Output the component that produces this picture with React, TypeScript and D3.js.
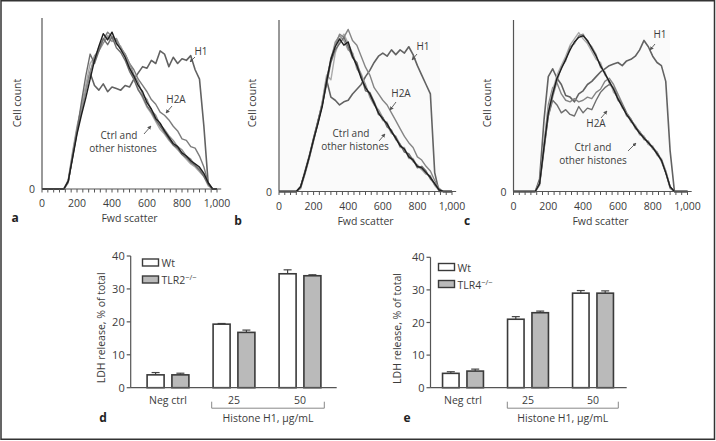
import React from 'react';
import * as d3 from 'd3';

// ---------- Histogram data (Fwd scatter vs cell count, % of peak) ----------
const FWD_SCATTER = [0,25,50,75,100,125,150,175,200,225,250,275,300,325,350,375,400,425,450,475,500,525,550,575,600,625,650,675,700,725,750,775,800,825,850,875,900,925,950,975,1000];
const FWD_TICKS = [0, 200, 400, 600, 800, 1000];

// panel a
const A_CTRL1 = [0,0,0,0,0,0,5,20,35,47,58,70,82,91,99,95,100,93,89,84,77,72,66,62,55,51,45,42,37,33,29,27,23,21,18,16,14,10,4,0,0];
const A_CTRL2 = [0,0,0,0,0,0,4,22,38,50,62,74,85,88,93,97,94,96,90,86,80,73,68,60,57,50,47,41,38,34,31,27,25,21,19,15,13,9,3,0,0];
const A_CTRL3 = [0,0,0,0,0,0,6,24,40,52,66,80,84,90,95,98,96,92,91,85,78,70,64,58,52,48,43,38,35,31,28,25,22,19,16,14,11,8,2,0,0];
const A_CTRL4 = [0,0,0,0,0,0,5,21,37,55,72,86,80,88,96,92,97,90,87,82,75,70,63,59,53,49,44,40,36,32,28,26,22,20,17,15,12,8,3,0,0];
const A_H2A = [0,0,0,0,0,0,5,20,36,50,63,75,82,90,95,100,97,95,90,86,80,76,70,66,62,57,54,49,47,44,40,37,32,31,27,26,21,14,4,0,0];
const A_H1 = [0,0,0,0,0,0,5,22,38,52,64,74,66,63,67,62,65,64,63,66,65,70,74,78,77,82,80,88,86,78,84,80,83,82,85,76,70,40,3,0,0];

// panel b
const B_CTRL1 = [0,0,0,0,0,3,12,22,33,43,54,70,84,92,97,93,95,86,80,72,66,62,56,50,46,43,38,34,29,27,22,20,16,15,12,9,5,1,0,0,0];
const B_CTRL2 = [0,0,0,0,0,2,11,21,32,44,56,72,83,95,99,96,90,88,78,74,68,60,55,52,47,42,37,35,30,26,23,19,17,14,11,10,4,1,0,0,0];
const B_CTRL3 = [0,0,0,0,0,3,13,23,34,45,55,68,82,90,94,98,92,85,82,73,64,63,57,49,47,41,39,33,30,25,24,20,15,16,13,8,5,1,0,0,0];
const B_CTRL4 = [0,0,0,0,0,2,12,22,33,44,57,74,71,88,96,100,94,88,80,75,67,61,57,51,45,44,37,35,28,28,21,21,16,14,12,9,4,1,0,0,0];
const B_H2A = [0,0,0,0,0,3,12,22,34,44,55,70,85,93,100,98,103,96,93,86,79,74,66,62,58,55,50,45,40,35,31,28,22,20,16,13,7,2,0,0,0];
const B_H1 = [0,0,0,0,0,3,12,22,33,44,56,71,60,58,55,57,58,62,65,68,73,77,82,86,88,86,90,87,90,88,92,87,80,74,68,62,12,0,0,0,0];

// panel c
const C_CTRL1 = [0,0,0,0,0,0,5,28,50,62,72,78,84,90,95,98,99,96,91,86,80,75,70,65,59,54,49,45,41,37,34,31,28,24,20,12,3,0,0,0,0];
const C_CTRL2 = [0,0,0,0,0,0,6,30,52,64,74,80,86,93,97,101,97,94,89,84,82,74,71,63,60,53,50,44,42,36,35,30,29,23,21,13,3,0,0,0,0];
const C_CTRL3 = [0,0,0,0,0,0,4,26,48,60,70,79,83,92,94,99,100,95,92,87,79,76,69,66,58,55,48,46,40,38,33,32,27,25,19,12,2,0,0,0,0];
const C_HIST = [0,0,0,0,0,0,5,30,55,66,69,62,58,57,59,57,58,60,59,63,65,70,72,68,62,56,50,45,42,37,35,30,28,24,20,13,3,0,0,0,0];
const C_H2A = [0,0,0,0,0,0,5,27,48,58,55,50,52,49,48,54,50,53,52,58,63,66,68,66,60,55,50,46,41,38,34,31,28,25,20,12,3,0,0,0,0];
const C_H1 = [0,0,0,0,0,0,8,45,73,78,72,68,61,60,57,62,64,68,70,73,76,78,80,81,82,80,83,84,86,90,96,92,86,82,80,70,26,0,0,0,0];

// ---------- LDH release data ----------
const LDH_GROUPS = ['Neg ctrl', '25', '50'];
const LDH_TICKS = [0, 10, 20, 30, 40];
const D_WT = [3.9, 19.3, 34.6];
const D_WT_ERR = [0.7, 0.2, 1.2];
const D_KO = [3.9, 16.8, 34.0];
const D_KO_ERR = [0.5, 0.7, 0.3];
const E_WT = [4.4, 21.0, 29.0];
const E_WT_ERR = [0.5, 0.8, 0.8];
const E_KO = [5.1, 23.0, 29.0];
const E_KO_ERR = [0.6, 0.5, 0.7];

const FONT = '"Open Sans", "DejaVu Sans", sans-serif';
const TXT = '#3c3c3c';
const AXIS = '#555';

type Curve = { values: number[]; color: string; width: number };
type Note = { lines: string[]; x: number; y: number; arrow: [number, number, number, number] };
type HistCfg = {
  letter: string; x0: number; pxPer1000: number; yBase: number; yTop: number;
  bg: null | [number, number, number, number]; ylabelX: number; letterX: number;
  curves: Curve[]; notes: Note[];
};

const HISTS: HistCfg[] = [
  {
    letter: 'a', x0: 42, pxPer1000: 175, yBase: 189, yTop: 18, bg: null, ylabelX: 21, letterX: 15,
    curves: [
      { values: A_H1, color: '#626262', width: 1.6 },
      { values: A_H2A, color: '#7c7c7c', width: 1.4 },
      { values: A_CTRL3, color: '#ababab', width: 1.4 },
      { values: A_CTRL2, color: '#8f8f8f', width: 1.4 },
      { values: A_CTRL4, color: '#6c6c6c', width: 1.4 },
      { values: A_CTRL1, color: '#1e1e1e', width: 1.4 },
    ],
    notes: [
      { lines: ['H1'], x: 201, y: 55, arrow: [195, 57, 190, 62] },
      { lines: ['H2A'], x: 176, y: 103, arrow: [172, 106, 166, 113] },
      { lines: ['Ctrl and', 'other histones'], x: 119, y: 138.5, arrow: [144, 134, 151, 126] },
    ],
  },
  {
    letter: 'b', x0: 279, pxPer1000: 173, yBase: 191.5, yTop: 20, bg: [279, 30, 440, 191.5], ylabelX: 256, letterX: 238,
    curves: [
      { values: B_H1, color: '#626262', width: 1.6 },
      { values: B_CTRL4, color: '#ababab', width: 1.4 },
      { values: B_CTRL2, color: '#959595', width: 1.4 },
      { values: B_H2A, color: '#858585', width: 1.4 },
      { values: B_CTRL3, color: '#6a6a6a', width: 1.4 },
      { values: B_CTRL1, color: '#1e1e1e', width: 1.4 },
    ],
    notes: [
      { lines: ['H1'], x: 423, y: 50, arrow: [417, 54, 412, 60] },
      { lines: ['H2A'], x: 401, y: 97, arrow: [396, 102, 390, 110] },
      { lines: ['Ctrl and', 'other histones'], x: 351, y: 136.5, arrow: [379, 141, 385, 134] },
    ],
  },
  {
    letter: 'c', x0: 513.5, pxPer1000: 174, yBase: 191.5, yTop: 20, bg: [514, 30, 670, 191.5], ylabelX: 491, letterX: 467,
    curves: [
      { values: C_H1, color: '#626262', width: 1.6 },
      { values: C_HIST, color: '#858585', width: 1.4 },
      { values: C_H2A, color: '#6e6e6e', width: 1.4 },
      { values: C_CTRL2, color: '#ababab', width: 1.4 },
      { values: C_CTRL3, color: '#8a8a8a', width: 1.4 },
      { values: C_CTRL1, color: '#1e1e1e', width: 1.4 },
    ],
    notes: [
      { lines: ['H1'], x: 660, y: 38, arrow: [655, 44, 650, 50] },
      { lines: ['H2A'], x: 596, y: 127, arrow: [601, 118, 607, 111] },
      { lines: ['Ctrl and', 'other histones'], x: 593, y: 150.5, arrow: [628, 151, 636, 143] },
    ],
  },
];

type BarCfg = {
  letter: string; koLabel: string; axisX: number; xEnd: number; bandStart: number; bandEnd: number;
  yBase: number; yTop: number; offset: number; bw: number; wt: number[]; wtErr: number[];
  ko: number[]; koErr: number[]; legX: number; legY: number; ylabelX: number; letterX: number;
  bracket: [number, number];
};

const BARS: BarCfg[] = [
  {
    letter: 'd', koLabel: 'TLR2', axisX: 130.7, xEnd: 336.7, bandStart: 135, bandEnd: 333,
    yBase: 387.7, yTop: 256, offset: 12.4, bw: 17, wt: D_WT, wtErr: D_WT_ERR, ko: D_KO, koErr: D_KO_ERR,
    legX: 142.5, legY: 259, ylabelX: 105, letterX: 103, bracket: [211.7, 324.3],
  },
  {
    letter: 'e', koLabel: 'TLR4', axisX: 430.5, xEnd: 626.7, bandStart: 430.5, bandEnd: 625.5,
    yBase: 387.7, yTop: 257.3, offset: 12.2, bw: 16.5, wt: E_WT, wtErr: E_WT_ERR, ko: E_KO, koErr: E_KO_ERR,
    legX: 438.5, legY: 263.5, ylabelX: 401, letterX: 407, bracket: [507.3, 618.3],
  },
];

function Histogram({ cfg }: { cfg: HistCfg }) {
  const x = d3.scaleLinear().domain([0, 1024]).range([cfg.x0, cfg.x0 + cfg.pxPer1000 * 1.024]);
  const y = d3.scaleLinear().domain([0, 109]).range([cfg.yBase, cfg.yTop]);
  const line = d3.line<number>().x((_, i) => x(FWD_SCATTER[i])).y((d) => y(d));
  const minor = d3.range(0, 1001, 200 / 6);
  const midX = (x(0) + x(1000)) / 2;
  return (
    <g>
      {cfg.bg && (
        <rect x={cfg.bg[0]} y={cfg.bg[1]} width={cfg.bg[2] - cfg.bg[0]} height={cfg.bg[3] - cfg.bg[1]} fill="#fafafa" />
      )}
      {cfg.curves.map((c, i) => (
        <path key={i} d={line(c.values) || ''} fill="none" stroke={c.color} strokeWidth={c.width} strokeLinejoin="round" />
      ))}
      <line x1={x(0)} x2={x(1024)} y1={cfg.yBase} y2={cfg.yBase} stroke={AXIS} strokeWidth={1.2} />
      <line x1={x(0)} x2={x(0)} y1={cfg.yTop} y2={cfg.yBase} stroke={AXIS} strokeWidth={1.2} />
      {minor.map((t, i) => (
        <line key={i} x1={x(t)} x2={x(t)} y1={cfg.yBase} y2={cfg.yBase + 3.5} stroke={AXIS} strokeWidth={1} />
      ))}
      {FWD_TICKS.map((t) => (
        <text key={t} x={x(t)} y={cfg.yBase + 18} textAnchor="middle" fontSize={10.5} fill={TXT} fontFamily={FONT}>
          {d3.format(',')(t)}
        </text>
      ))}
      <text x={x(0) - 7} y={cfg.yBase + 4} textAnchor="end" fontSize={10.5} fill={TXT} fontFamily={FONT}>0</text>
      <text x={midX} y={cfg.yBase + 33} textAnchor="middle" fontSize={10.5} fill={TXT} fontFamily={FONT}>Fwd scatter</text>
      <text x={cfg.letterX} y={cfg.yBase + 33} textAnchor="middle" fontSize={12} fontWeight="bold" fill="#222" fontFamily={FONT}>{cfg.letter}</text>
      <text transform={`translate(${cfg.ylabelX},103) rotate(-90)`} textAnchor="middle" fontSize={10.5} fill={TXT} fontFamily={FONT}>Cell count</text>
      {cfg.notes.map((n, i) => (
        <g key={i}>
          {n.lines.map((l, j) => (
            <text key={j} x={n.x + (j === 1 && cfg.letter !== 'c' ? 4 : 0)} y={n.y + j * 13} textAnchor="middle" fontSize={10} fill={TXT} fontFamily={FONT}>{l}</text>
          ))}
          <line x1={n.arrow[0]} y1={n.arrow[1]} x2={n.arrow[2]} y2={n.arrow[3]} stroke="#555" strokeWidth={0.9} markerEnd="url(#arrowHead)" />
        </g>
      ))}
    </g>
  );
}

function BarChart({ cfg }: { cfg: BarCfg }) {
  const xb = d3.scaleBand<string>().domain(LDH_GROUPS).range([cfg.bandStart, cfg.bandEnd]);
  const y = d3.scaleLinear().domain([0, 40]).range([cfg.yBase, cfg.yTop]);
  const cx = (g: string) => (xb(g) || 0) + xb.bandwidth() / 2;
  const series = [
    { vals: cfg.wt, errs: cfg.wtErr, fill: '#ffffff', dx: -cfg.offset },
    { vals: cfg.ko, errs: cfg.koErr, fill: '#bababa', dx: cfg.offset },
  ];
  const ylabelY = (cfg.yBase + cfg.yTop) / 2 + 6;
  return (
    <g fontFamily={FONT}>
      {series.map((s, si) =>
        LDH_GROUPS.map((g, gi) => {
          const bx = cx(g) + s.dx;
          const top = y(s.vals[gi]);
          const et = y(s.vals[gi] + s.errs[gi]);
          return (
            <g key={`${si}-${gi}`}>
              <line x1={bx} x2={bx} y1={top} y2={et} stroke="#444" strokeWidth={1.2} />
              <line x1={bx - 4} x2={bx + 4} y1={et} y2={et} stroke="#444" strokeWidth={1.2} />
              <rect x={bx - cfg.bw / 2} y={top} width={cfg.bw} height={cfg.yBase - top} fill={s.fill} stroke="#3a3a3a" strokeWidth={1.6} />
            </g>
          );
        })
      )}
      <line x1={cfg.axisX} x2={cfg.axisX} y1={cfg.yTop} y2={cfg.yBase} stroke={AXIS} strokeWidth={1.2} />
      <line x1={cfg.axisX} x2={cfg.xEnd} y1={cfg.yBase} y2={cfg.yBase} stroke={AXIS} strokeWidth={1.2} />
      {LDH_TICKS.map((t) => (
        <g key={t}>
          <line x1={cfg.axisX - 4} x2={cfg.axisX} y1={y(t)} y2={y(t)} stroke={AXIS} strokeWidth={1.2} />
          <text x={cfg.axisX - 6} y={y(t) + 4} textAnchor="end" fontSize={11} fill={TXT}>{t}</text>
        </g>
      ))}
      <text transform={`translate(${cfg.ylabelX},${ylabelY}) rotate(-90)`} textAnchor="middle" fontSize={10.5} fill={TXT}>LDH release, % of total</text>
      {LDH_GROUPS.map((g) => (
        <text key={g} x={cx(g)} y={cfg.yBase + 16.5} textAnchor="middle" fontSize={10.5} fill={TXT}>{g}</text>
      ))}
      <path d={`M${cfg.bracket[0]},${cfg.yBase + 14} V${cfg.yBase + 20.5} H${cfg.bracket[1]} V${cfg.yBase + 14}`} fill="none" stroke="#888" strokeWidth={1} />
      <text x={(cfg.bracket[0] + cfg.bracket[1]) / 2} y={cfg.yBase + 34} textAnchor="middle" fontSize={10.5} fill={TXT}>Histone H1, μg/mL</text>
      <text x={cfg.letterX} y={cfg.yBase + 34} textAnchor="middle" fontSize={12} fontWeight="bold" fill="#222">{cfg.letter}</text>
      <rect x={cfg.legX} y={cfg.legY} width={16} height={7} fill="#fff" stroke="#3a3a3a" strokeWidth={1.4} />
      <text x={cfg.legX + 19} y={cfg.legY + 8} fontSize={10.5} fill={TXT}>Wt</text>
      <rect x={cfg.legX} y={cfg.legY + 17} width={16} height={7} fill="#bababa" stroke="#3a3a3a" strokeWidth={1.4} />
      <text x={cfg.legX + 19} y={cfg.legY + 25} fontSize={10.5} fill={TXT}>
        {cfg.koLabel}
        <tspan dy={-4} fontSize={7.5}>−/−</tspan>
      </text>
    </g>
  );
}

export default function App() {
  return (
    <svg width={716} height={441} style={{ position: 'absolute', left: 0, top: 0, display: 'block', background: '#fff' }}>
      <defs>
        <marker id="arrowHead" markerUnits="userSpaceOnUse" markerWidth={4} markerHeight={4} refX={3.5} refY={2} orient="auto">
          <path d="M0,0 L4,2 L0,4 z" fill="#555" />
        </marker>
      </defs>
      <rect x={0} y={0} width={716} height={441} fill="#fff" />
      {HISTS.map((h) => <Histogram key={h.letter} cfg={h} />)}
      {BARS.map((b) => <BarChart key={b.letter} cfg={b} />)}
      <rect x={1} y={0.75} width={713.5} height={438.5} fill="none" stroke="#333" strokeWidth={1.5} />
    </svg>
  );
}
